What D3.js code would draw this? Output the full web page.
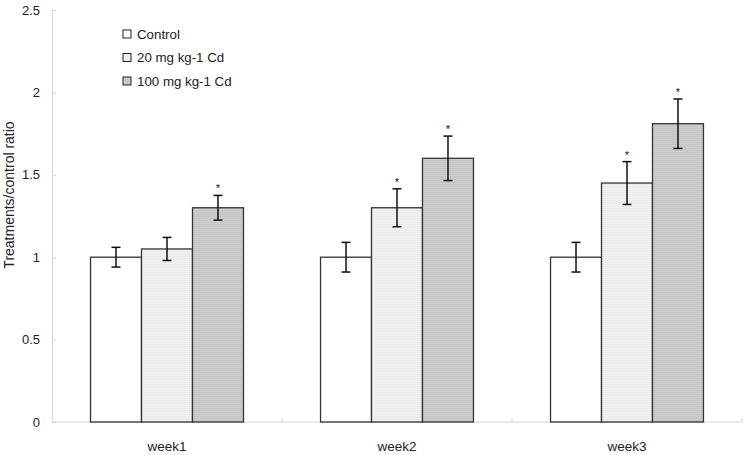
<!DOCTYPE html>
<html>
<head>
<meta charset="utf-8">
<script src="https://cdn.jsdelivr.net/npm/d3@7"></script>
<style>
  body { margin: 0; background: #fff; }
  svg { display: block; font-family: "Liberation Sans", Arial, sans-serif; }
</style>
</head>
<body>
<svg id="chart" width="745" height="455"></svg>
<script>
const categories = ["week1", "week2", "week3"];
const seriesNames = ["Control", "20 mg kg-1 Cd", "100 mg kg-1 Cd"];
const controlValues = [1.0, 1.0, 1.0];
const cd20Values = [1.05, 1.30, 1.45];
const cd100Values = [1.30, 1.60, 1.81];
const controlErrors = [0.06, 0.09, 0.09];
const cd20Errors = [0.07, 0.115, 0.13];
const cd100Errors = [0.075, 0.135, 0.15];
const cd20Sig = [false, true, true];
const cd100Sig = [true, true, true];
const yTicks = [0, 0.5, 1, 1.5, 2, 2.5];
const yTickLabels = ["0", "0.5", "1", "1.5", "2", "2.5"];

const series = [
  { name: seriesNames[0], values: controlValues, errors: controlErrors, sig: [false, false, false], fill: "#ffffff" },
  { name: seriesNames[1], values: cd20Values, errors: cd20Errors, sig: cd20Sig, fill: "url(#pat20)" },
  { name: seriesNames[2], values: cd100Values, errors: cd100Errors, sig: cd100Sig, fill: "url(#pat100)" }
];

const svg = d3.select("#chart");
const x0 = 52, x1 = 742, yBottom = 422, yTop = 10;

const defs = svg.append("defs");
const p20 = defs.append("pattern").attr("id", "pat20").attr("width", 2).attr("height", 2).attr("patternUnits", "userSpaceOnUse");
p20.append("rect").attr("width", 2).attr("height", 2).attr("fill", "#f1f1f1");
p20.append("rect").attr("width", 1).attr("height", 1).attr("fill", "#e6e6e6");
const p100 = defs.append("pattern").attr("id", "pat100").attr("width", 2).attr("height", 2).attr("patternUnits", "userSpaceOnUse");
p100.append("rect").attr("width", 2).attr("height", 2).attr("fill", "#cdcdcd");
p100.append("rect").attr("width", 1).attr("height", 1).attr("fill", "#bdbdbd");

const x = d3.scaleBand().domain(categories).range([x0, x1]).paddingInner(0).paddingOuter(0);
const groupWidth = x.bandwidth() * 0.665;
const xs = d3.scaleBand().domain(d3.range(series.length)).range([0, groupWidth]);
const y = d3.scaleLinear().domain([0, 2.5]).range([yBottom, yTop]);

// Axes
const yAxis = d3.axisLeft(y).tickValues(yTicks).tickFormat((d, i) => yTickLabels[i]).tickSize(-4).tickPadding(12);
const gy = svg.append("g").attr("transform", `translate(${x0},0)`).call(yAxis);
gy.select(".domain").attr("stroke", "#d4d4d4");
gy.selectAll(".tick line").attr("stroke", "#d4d4d4");
gy.selectAll(".tick text").attr("font-size", 13).attr("fill", "#222").attr("font-family", "Liberation Sans, Arial, sans-serif");

const gx = svg.append("g").attr("transform", `translate(0,${yBottom})`);
gx.append("line").attr("x1", x0).attr("x2", x1).attr("y1", 0).attr("y2", 0).attr("stroke", "#d4d4d4");
gx.selectAll(".sep").data(categories).enter().append("line")
  .attr("x1", d => x(d) + x.bandwidth()).attr("x2", d => x(d) + x.bandwidth())
  .attr("y1", 0).attr("y2", -4).attr("stroke", "#d4d4d4");
gx.selectAll(".lab").data(categories).enter().append("text")
  .attr("x", d => x(d) + x.bandwidth() / 2).attr("y", 29)
  .attr("text-anchor", "middle").attr("font-size", 13.5).attr("fill", "#222").text(d => d);

// Y label
svg.append("text").attr("transform", `translate(14,195) rotate(-90)`)
  .attr("text-anchor", "middle").attr("font-size", 14).attr("fill", "#222")
  .text("Treatments/control ratio");

// Bars
const groups = svg.selectAll(".grp").data(categories).enter().append("g")
  .attr("transform", d => `translate(${x(d) + (x.bandwidth() - groupWidth) / 2},0)`);

series.forEach((s, si) => {
  groups.append("rect")
    .attr("x", xs(si)).attr("width", xs.bandwidth())
    .attr("y", (d, i) => y(s.values[i]))
    .attr("height", (d, i) => y(0) - y(s.values[i]))
    .attr("fill", s.fill).attr("stroke", "#333").attr("stroke-width", 1.3);
});

series.forEach((s, si) => {
  const cx = xs(si) + xs.bandwidth() / 2;
  groups.append("line").attr("x1", cx).attr("x2", cx)
    .attr("y1", (d, i) => y(s.values[i] + s.errors[i]))
    .attr("y2", (d, i) => y(s.values[i] - s.errors[i]))
    .attr("stroke", "#111").attr("stroke-width", 1.5);
  [1, -1].forEach(sign => {
    groups.append("line").attr("x1", cx - 4.5).attr("x2", cx + 4.5)
      .attr("y1", (d, i) => y(s.values[i] + sign * s.errors[i]))
      .attr("y2", (d, i) => y(s.values[i] + sign * s.errors[i]))
      .attr("stroke", "#111").attr("stroke-width", 1.5);
  });
  groups.append("text").attr("x", cx).attr("text-anchor", "middle")
    .attr("y", (d, i) => y(s.values[i] + s.errors[i]) - 3)
    .attr("font-size", 11).attr("fill", "#111")
    .text((d, i) => s.sig[i] ? "*" : "");
});

// Legend
const legend = svg.append("g").attr("transform", "translate(123,34)");
series.forEach((s, si) => {
  const g = legend.append("g").attr("transform", `translate(0,${si * 23.5})`);
  g.append("rect").attr("x", 0).attr("y", -4).attr("width", 8).attr("height", 8)
    .attr("fill", s.fill).attr("stroke", "#222").attr("stroke-width", 1);
  g.append("text").attr("x", 14).attr("y", 4.5).attr("font-size", 13.3).attr("fill", "#222").text(s.name);
});
</script>
</body>
</html>
